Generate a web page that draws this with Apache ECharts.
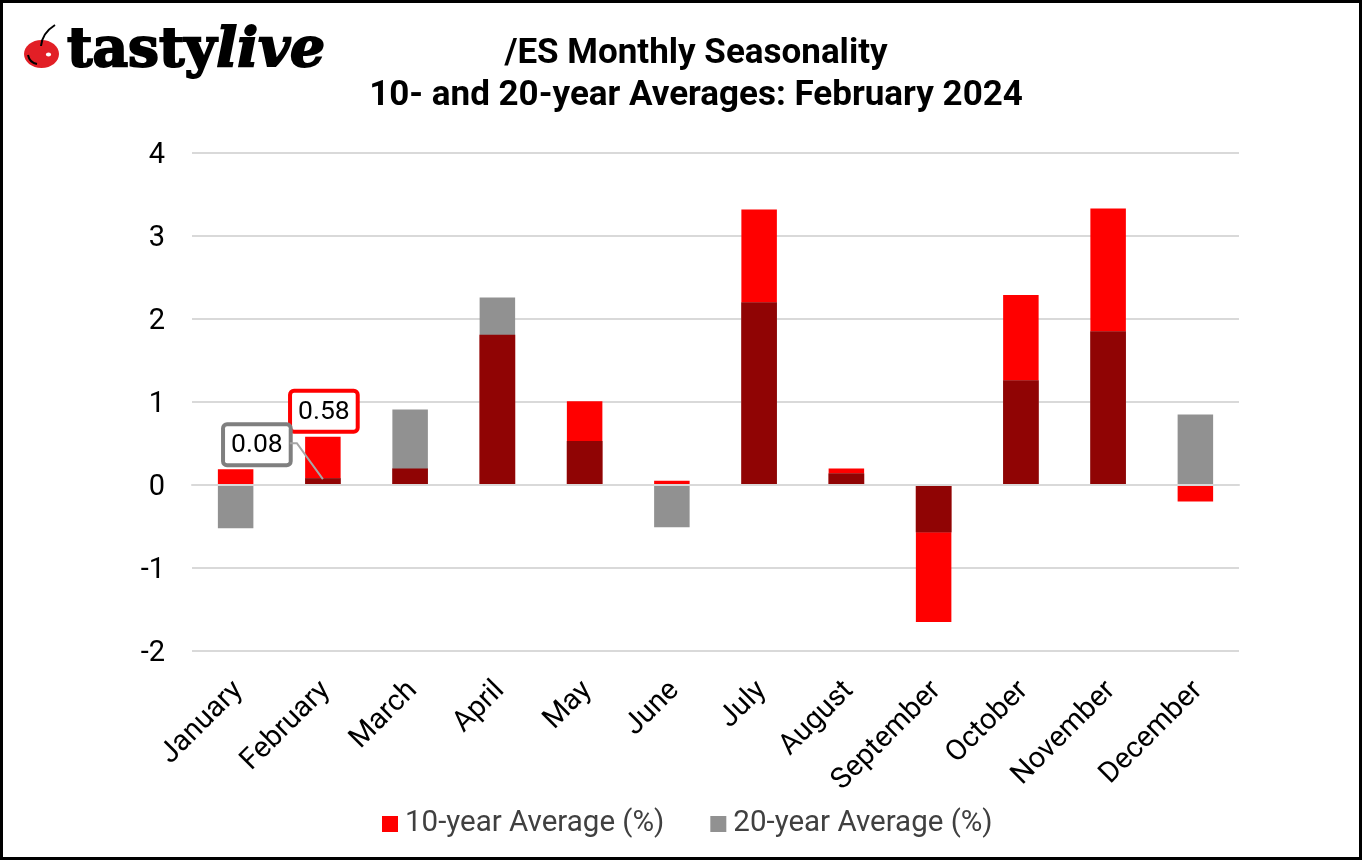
<!DOCTYPE html>
<html><head><meta charset="utf-8">
<style>html,body{margin:0;padding:0;background:#fff;overflow:hidden}#c{width:1362px;height:860px}</style>
<script src="https://cdn.jsdelivr.net/npm/echarts@6/dist/echarts.min.js"></script>
</head><body><div id="c"></div>
<script>
const categories=['January','February','March','April','May','June','July','August','September','October','November','December'];
const tenYear=[0.19,0.58,0.2,1.81,1.01,0.05,3.32,0.2,-1.65,2.29,3.33,-0.2];
const twentyYear=[-0.52,0.08,0.91,2.26,0.53,-0.51,2.2,0.14,-0.57,1.26,1.85,0.85];
const overlap=tenYear.map((v,i)=>v*twentyYear[i]>0?(Math.abs(v)<Math.abs(twentyYear[i])?v:twentyYear[i]):0);
const font='Roboto';
const chart=echarts.init(document.getElementById('c'),null,{renderer:'canvas'});
const barBase={type:'bar',barWidth:35.5,barGap:'-100%',animation:false,silent:true};
const boxLabel=(border)=>({show:true,position:'top',formatter:'{c}',fontFamily:font,fontSize:26.5,color:'#000',backgroundColor:'#fff',borderColor:border,borderWidth:4,borderRadius:2,padding:[6,6,4,6]});
chart.setOption({
 animation:false,
 title:{text:'/ES Monthly Seasonality\n10- and 20-year Averages: February 2024',left:691,top:28,textAlign:'center',
  textStyle:{fontFamily:font,fontWeight:'bold',fontSize:35,lineHeight:42,color:'#000'}},
 grid:{left:192,right:123,top:153,bottom:209,containLabel:false},
 legend:{data:['10-year Average (%)','20-year Average (%)'],bottom:16,left:377,itemWidth:16,itemHeight:16,itemGap:46,icon:'rect',
  textStyle:{fontFamily:font,fontSize:29.5,color:'#404040',padding:[0,0,0,2]}},
 xAxis:{type:'category',data:categories,z:5,axisTick:{show:false},
  axisLine:{onZero:true,lineStyle:{color:'#d9d9d9',width:2}},
  axisLabel:{rotate:45,interval:0,fontFamily:font,fontSize:29,color:'#000',margin:38,padding:[0,-4,0,0]}},
 yAxis:{type:'value',min:-2,max:4,interval:1,axisLine:{show:false},axisTick:{show:false},
  splitLine:{lineStyle:{color:'#d9d9d9',width:2}},
  axisLabel:{fontFamily:font,fontSize:29,color:'#000',margin:27,verticalAlign:'top',padding:[-12,0,0,0]}},
 series:[
  Object.assign({},barBase,{name:'10-year Average (%)',itemStyle:{color:'#ff0000'},z:2,
   labelLayout:(p)=>p.dataIndex===1?{dx:1,dy:-2}:{},
   data:tenYear.map((v,i)=>i===1?{value:v,label:Object.assign(boxLabel('#ff0000'),{distance:5})}:v)}),
  Object.assign({},barBase,{name:'20-year Average (%)',itemStyle:{color:'#919191'},z:2,data:twentyYear}),
  Object.assign({},barBase,{name:'overlap',itemStyle:{color:'#900404'},z:3,
   labelLayout:(p)=>p.dataIndex===1?{dx:-66,dy:-10}:{},
   data:overlap.map((v,i)=>i===1?{value:v,label:boxLabel('#7f7f7f')}:v)})
 ],
 graphic:[
  {type:'rect',z:100,silent:true,shape:{x:1.5,y:1.5,width:1359,height:857},style:{fill:'none',stroke:'#000',lineWidth:3}},
  {type:'text',z:50,left:66,top:23,style:{rich:{a:{fontFamily:'DejaVu Serif',fontWeight:'bold',fontSize:55,fill:'#000'},b:{fontFamily:'DejaVu Serif',fontWeight:'bold',fontStyle:'italic',fontSize:55,fill:'#000'}},text:'{a|tasty}{b|live}',fill:'#000',stroke:'#000',lineWidth:2}},
  {type:'ellipse',z:50,shape:{cx:41.5,cy:54,rx:17.5,ry:14},style:{fill:'#e21f26'}},
  {type:'bezierCurve',z:51,shape:{x1:41,y1:46,cpx1:42,cpy1:36,cpx2:47,cpy2:30,x2:55,y2:25},style:{stroke:'#000',fill:'none',lineWidth:2}},
  {type:'ellipse',z:51,shape:{cx:48.5,cy:54.5,rx:2.6,ry:2},style:{fill:'#fff'}},
  {type:'bezierCurve',z:51,shape:{x1:28,y1:55,cpx1:29,cpy1:60,cpx2:32,cpy2:63,x2:37,y2:64},style:{stroke:'#000',fill:'none',lineWidth:2}}
 ]
});
// leader line from the 0.08 callout to the February overlap bar
const anchor=chart.convertToPixel({xAxisIndex:0,yAxisIndex:0},[1,overlap[1]/2+0.03]);
chart.setOption({graphic:[{type:'polyline',id:'leader',z:40,silent:true,
 shape:{points:[[anchor[0]-33,anchor[1]-36],[anchor[0]-26,anchor[1]-36],[anchor[0],anchor[1]]]},
 style:{fill:'none',stroke:'#a6a6a6',lineWidth:2}}]});
</script></body></html>
